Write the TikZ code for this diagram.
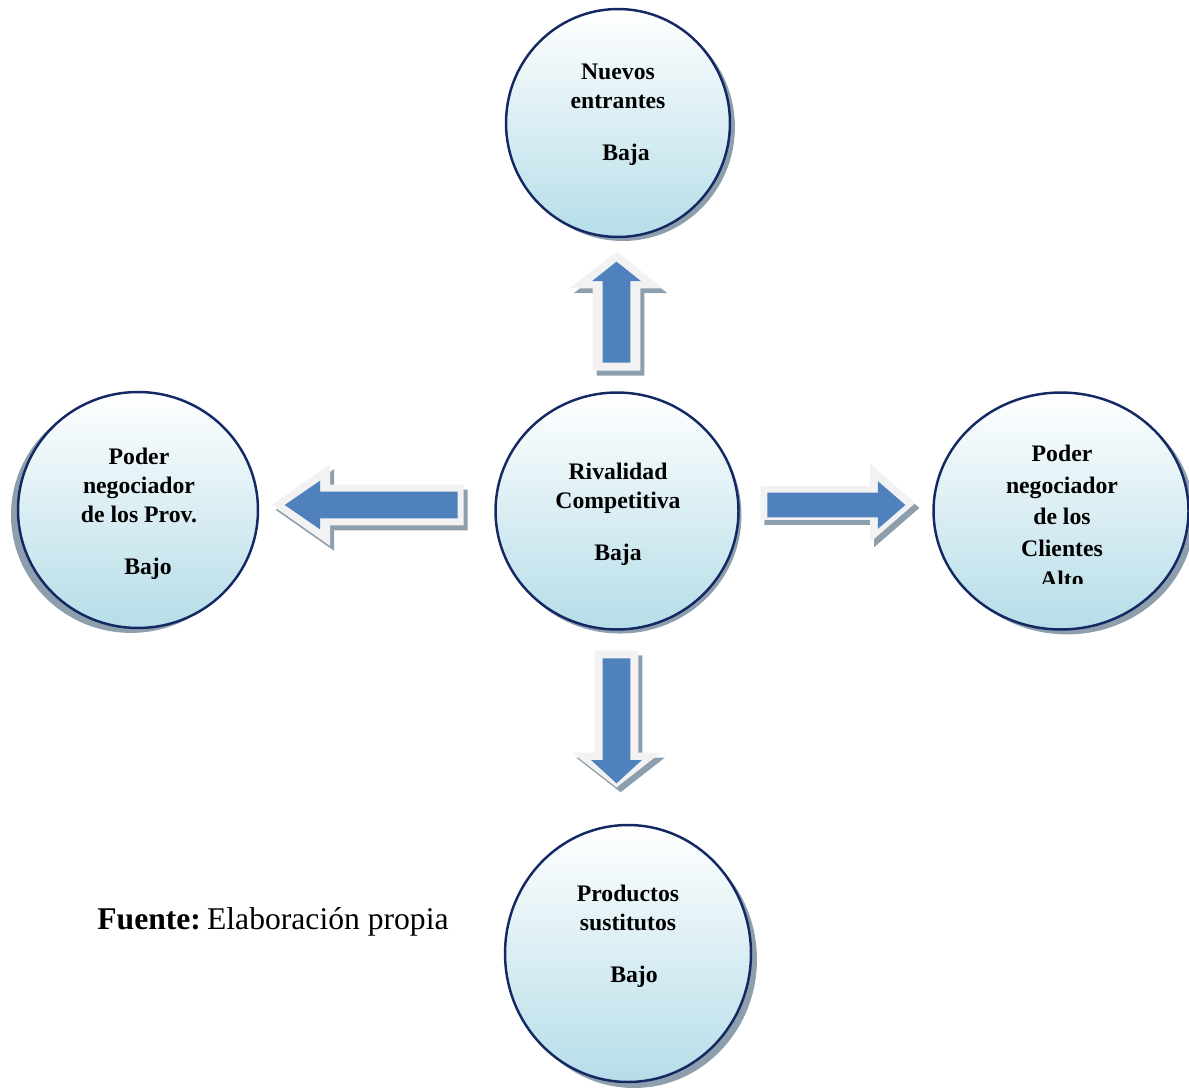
\documentclass[tikz,border=0pt]{standalone}
\usepackage{fontspec}
\setmainfont{Liberation Serif}
\usetikzlibrary{shapes.geometric, shapes.arrows, shadows}

\definecolor{forceline}{RGB}{20,40,100}
\definecolor{forcefill}{RGB}{182,221,232}
\definecolor{arrowblue}{RGB}{79,129,189}
\definecolor{bevel}{RGB}{242,242,242}
\definecolor{shadowgray}{RGB}{141,158,172}

\begin{document}
\begin{tikzpicture}[x=0.02cm, y=-0.02cm,
    force/.style={ellipse, draw=forceline, line width=1.4pt, top color=white,
                  bottom color=forcefill, inner sep=0pt},
    forceshadow/.style 2 args={drop shadow={shadow xshift=#1, shadow yshift=#2,
                  fill=shadowgray, opacity=1}},
    forcetext/.style={anchor=north, align=center, inner sep=0pt,
                  font=\bfseries\fontsize{13.5}{16.4}\selectfont},
    outerarrow/.style={single arrow, anchor=tail, fill=bevel, draw=none,
                  drop shadow={shadow xshift=2.3pt, shadow yshift=-2.8pt,
                  fill=shadowgray, opacity=1}},
    innerarrow/.style={single arrow, anchor=tail, fill=arrowblue, draw=none}
]
    \useasboundingbox (0,0) rectangle (1189,1091);

    % Forces
    \node[force, forceshadow={2.8pt}{-2.3pt}, minimum width=4.48cm, minimum height=4.56cm] (nuevos) at (618,123) {};
    \node[force, forceshadow={1.7pt}{-2.3pt}, minimum width=4.86cm, minimum height=4.74cm] (rival) at (617,511) {};
    \node[force, forceshadow={-4pt}{-2.8pt}, minimum width=4.8cm, minimum height=4.72cm] (prov) at (138,510) {};
    \node[force, forceshadow={3.4pt}{-2.8pt}, minimum width=5.1cm, minimum height=4.74cm] (clientes) at (1061,511) {};
    \node[force, forceshadow={3.4pt}{-3.4pt}, minimum width=4.92cm, minimum height=5.14cm] (sustitutos) at (628,953.5) {};

    % Labels inside the forces
    \node[forcetext] (nuevos-t) at (618,64) {Nuevos\\entrantes\\[13pt]\hspace*{0.32cm}Baja};
    \node[forcetext] (rival-t) at (618,463) {Rivalidad\\Competitiva\\[13pt]Baja};
    \node[forcetext] (prov-t) at (139,448) {Poder\\negociador\\de los Prov.\\[13pt]\hspace*{0.36cm}Bajo};
    \begin{scope}
        \clip (925,380) rectangle (1189,583);
        \node[forcetext] (clientes-t) at (1062,445) {Poder\\[1.5pt]negociador\\[1.5pt]de los\\[1.5pt]Clientes\\[1.5pt]Alto};
    \end{scope}
    \node[forcetext] (sustitutos-t) at (628,885) {Productos\\sustitutos\\[13pt]\hspace*{0.24cm}Bajo};

    % Block arrows (placed by their tails)
    \node[outerarrow, shape border rotate=90, inner sep=0.47cm, minimum height=2.38cm,
          single arrow head extend=0.46cm, single arrow tip angle=104] (up-o) at (616.5,371) {};
    \node[innerarrow, shape border rotate=90, inner sep=0.27cm, minimum height=2.02cm,
          single arrow head extend=0.21cm, single arrow tip angle=103] (up-i) at (616.5,363) {};

    \node[outerarrow, shape border rotate=270, inner sep=0.43cm, minimum height=2.74cm,
          single arrow head extend=0.45cm, single arrow tip angle=104] (down-o) at (616.5,650) {};
    \node[innerarrow, shape border rotate=270, inner sep=0.27cm, minimum height=2.5cm,
          single arrow head extend=0.23cm, single arrow tip angle=95] (down-i) at (616.5,658) {};

    \node[outerarrow, shape border rotate=180, inner sep=0.4cm, minimum height=3.84cm,
          single arrow head extend=0.41cm, single arrow tip angle=70] (left-o) at (464,505) {};
    \node[innerarrow, shape border rotate=180, inner sep=0.26cm, minimum height=3.46cm,
          single arrow head extend=0.22cm, single arrow tip angle=69] (left-i) at (458,505) {};

    \node[outerarrow, inner sep=0.33cm, minimum height=3.1cm,
          single arrow head extend=0.45cm, single arrow tip angle=82] (right-o) at (760,503) {};
    \node[innerarrow, inner sep=0.24cm, minimum height=2.76cm,
          single arrow head extend=0.23cm, single arrow tip angle=82] (right-i) at (767,505) {};

    % Source
    \node[anchor=base west, inner sep=0pt, font=\fontsize{18}{21}\selectfont] (fuente) at (97,929)
        {\textbf{Fuente:}\kern3.5pt Elaboración propia};
\end{tikzpicture}
\end{document}
